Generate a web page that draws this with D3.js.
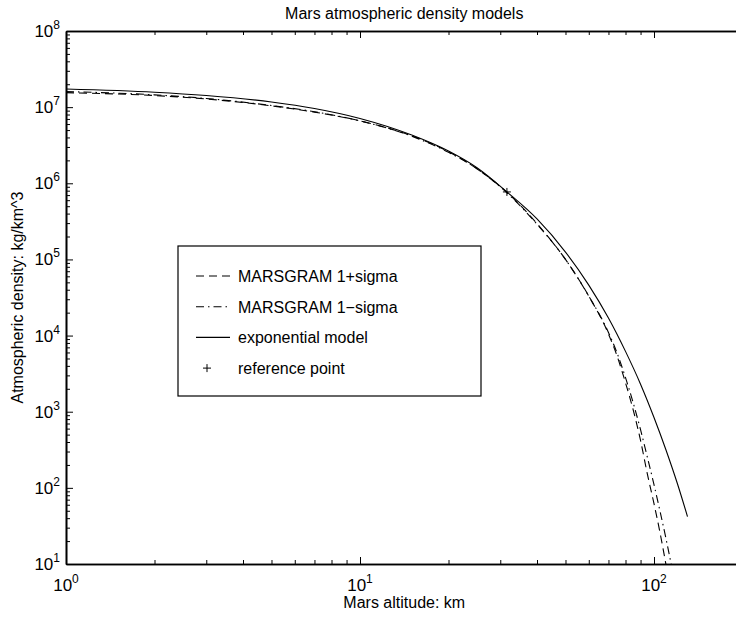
<!DOCTYPE html>
<html>
<head>
<meta charset="utf-8">
<script src="https://cdn.jsdelivr.net/npm/d3@7/dist/d3.min.js"></script>
<style>
body { margin: 0; background: #fff; }
text { font-family: "Liberation Sans", Arial, sans-serif; fill: #000; }
</style>
</head>
<body>
<div id="chart"></div>
<script>
// values (altitude km, density kg/km^3)
var plusAlt  = [1, 2, 3, 5, 7, 10, 15, 20, 25, 31.6, 40, 50, 60, 70, 75, 80, 85, 90, 95, 100, 105, 110];
var plusDens = [1.55e7, 1.42e7, 1.28e7, 1.04e7, 8.6e6, 6.6e6, 4.2e6, 2.6e6, 1.55e6, 7.6e5, 2.95e5, 1.0e5, 3.3e4, 1.05e4, 5.3e3, 2.4e3, 1.05e3, 420, 150, 62, 25, 9.5];

var minusAlt  = [1, 2, 3, 5, 7, 10, 15, 20, 25, 31.6, 40, 50, 60, 70, 75, 80, 85, 90, 95, 100, 105, 110, 115];
var minusDens = [1.6e7, 1.45e7, 1.3e7, 1.05e7, 8.7e6, 6.6e6, 4.15e6, 2.55e6, 1.55e6, 7.5e5, 2.9e5, 1.0e5, 3.3e4, 1.1e4, 5.8e3, 2.8e3, 1.3e3, 580, 250, 110, 48, 21, 9];

var expAlt  = [1, 2, 3, 5, 7, 10, 15, 20, 25, 31.6, 40, 50, 60, 70, 80, 90, 100, 110, 120, 130];
var expDens = [1.73e7, 1.57e7, 1.42e7, 1.17e7, 9.6e6, 7.1e6, 4.3e6, 2.65e6, 1.6e6, 7.7e5, 3.4e5, 1.25e5, 4.6e4, 1.7e4, 6.2e3, 2.3e3, 840, 310, 115, 42];

var refAlt  = [31.6];
var refDens = [7.7e5];

var legendNames = ["MARSGRAM 1+sigma", "MARSGRAM 1\u2212sigma", "exponential model", "reference point"];

var xMajor = [1, 10, 100];
var yMajor = [1e1, 1e2, 1e3, 1e4, 1e5, 1e6, 1e7, 1e8];

var width = 736, height = 620;
var pLeft = 66, pTop = 31, pBottom = 564;

var svg = d3.select("#chart").append("svg")
    .attr("width", width)
    .attr("height", height);

svg.append("rect").attr("width", width).attr("height", height).attr("fill", "#fff");

var x = d3.scaleLog().domain([1, 200]).range([pLeft, pLeft + 294 * Math.log10(200)]);
var y = d3.scaleLog().domain([10, 1e8]).range([pBottom, pTop]);

function minorOf(dom) {
    var out = [];
    for (var e = Math.floor(Math.log10(dom[0])); e <= Math.ceil(Math.log10(dom[1])); e++) {
        for (var k = 2; k <= 9; k++) {
            var v = k * Math.pow(10, e);
            if (v > dom[0] && v < dom[1]) out.push(v);
        }
    }
    return out;
}
var xMinor = minorOf(x.domain());
var yMinor = minorOf(y.domain());

svg.append("defs").append("clipPath").attr("id", "clip")
    .append("rect").attr("x", pLeft).attr("y", pTop)
    .attr("width", x.range()[1] - pLeft).attr("height", pBottom - pTop);

// curves
var line = d3.line()
    .x(function(d) { return x(d[0]); })
    .y(function(d) { return y(d[1]); })
    .curve(d3.curveMonotoneX);

var series = [
    {alt: plusAlt, dens: plusDens, dash: "8,5"},
    {alt: minusAlt, dens: minusDens, dash: "8,4,1.5,4"},
    {alt: expAlt, dens: expDens, dash: null}
];

var plot = svg.append("g").attr("clip-path", "url(#clip)");

plot.selectAll("path.series").data(series).enter()
    .append("path")
    .attr("class", "series")
    .attr("d", function(s) { return line(d3.zip(s.alt, s.dens)); })
    .attr("fill", "none")
    .attr("stroke", "#000")
    .attr("stroke-width", 1.1)
    .attr("stroke-dasharray", function(s) { return s.dash; });

plot.selectAll("path.ref").data(d3.zip(refAlt, refDens)).enter()
    .append("path")
    .attr("class", "ref")
    .attr("transform", function(d) { return "translate(" + x(d[0]) + "," + y(d[1]) + ")"; })
    .attr("d", "M-4,0H4M0,-4V4")
    .attr("stroke", "#000")
    .attr("stroke-width", 1);

// axes, ticks pointing inward
function tickAxis(gen, scale, vals, size, tr) {
    var g = svg.append("g").attr("transform", tr)
        .call(gen(scale).tickValues(vals).tickSizeInner(size).tickSizeOuter(0).tickFormat(""));
    g.selectAll("line").attr("stroke", "#000").attr("stroke-width", 1);
    g.select(".domain").attr("stroke", "#000").attr("stroke-width", 1.6);
    return g;
}
tickAxis(d3.axisBottom, x, xMajor, -7, "translate(0," + pBottom + ")");
tickAxis(d3.axisBottom, x, xMinor, -4, "translate(0," + pBottom + ")");
tickAxis(d3.axisTop, x, xMajor, -7, "translate(0," + pTop + ")");
tickAxis(d3.axisTop, x, xMinor, -4, "translate(0," + pTop + ")");
tickAxis(d3.axisLeft, y, yMajor, -7, "translate(" + pLeft + ",0)");
tickAxis(d3.axisLeft, y, yMinor, -4, "translate(" + pLeft + ",0)");

// tick labels 10^n
function powLabel(sel) {
    sel.append("tspan").text("10");
    sel.append("tspan").attr("dy", -8).attr("font-size", 12)
        .text(function(d) { return Math.round(Math.log10(d)); });
}
svg.selectAll("text.xt").data(xMajor).enter()
    .append("text").attr("class", "xt")
    .attr("x", function(d) { return x(d); })
    .attr("y", pBottom + 27)
    .attr("text-anchor", "middle")
    .attr("font-size", 17)
    .call(powLabel);

svg.selectAll("text.yt").data(yMajor).enter()
    .append("text").attr("class", "yt")
    .attr("x", pLeft - 6)
    .attr("y", function(d) { return y(d) + 6; })
    .attr("text-anchor", "end")
    .attr("font-size", 17)
    .call(powLabel);

// titles
svg.append("text")
    .attr("x", (pLeft + x.range()[1]) / 2).attr("y", 19)
    .attr("text-anchor", "middle").attr("font-size", 16)
    .text("Mars atmospheric density models");

svg.append("text")
    .attr("x", (pLeft + x.range()[1]) / 2).attr("y", 608)
    .attr("text-anchor", "middle").attr("font-size", 16)
    .text("Mars altitude: km");

svg.append("text")
    .attr("transform", "translate(23," + (pTop + pBottom) / 2 + ") rotate(-90)")
    .attr("text-anchor", "middle").attr("font-size", 16)
    .text("Atmospheric density: kg/km^3");

// legend
var lg = svg.append("g");
lg.append("rect")
    .attr("x", 178).attr("y", 246).attr("width", 303).attr("height", 150)
    .attr("fill", "#fff").attr("stroke", "#000").attr("stroke-width", 1.2);

var rows = lg.selectAll("g.row").data(legendNames).enter()
    .append("g").attr("class", "row")
    .attr("transform", function(d, i) { return "translate(0," + (276 + i * 30.7) + ")"; });

rows.append("text")
    .attr("x", 238).attr("y", 6)
    .attr("font-size", 16)
    .text(function(d) { return d; });

rows.each(function(d, i) {
    var r = d3.select(this);
    if (i < 3) {
        r.append("line").attr("x1", 196).attr("x2", 230)
            .attr("stroke", "#000").attr("stroke-width", 1.1)
            .attr("stroke-dasharray", series[i].dash);
    } else {
        r.append("path").attr("d", "M203,0H211M207,-4V4")
            .attr("stroke", "#000").attr("stroke-width", 1);
    }
});
</script>
</body>
</html>
